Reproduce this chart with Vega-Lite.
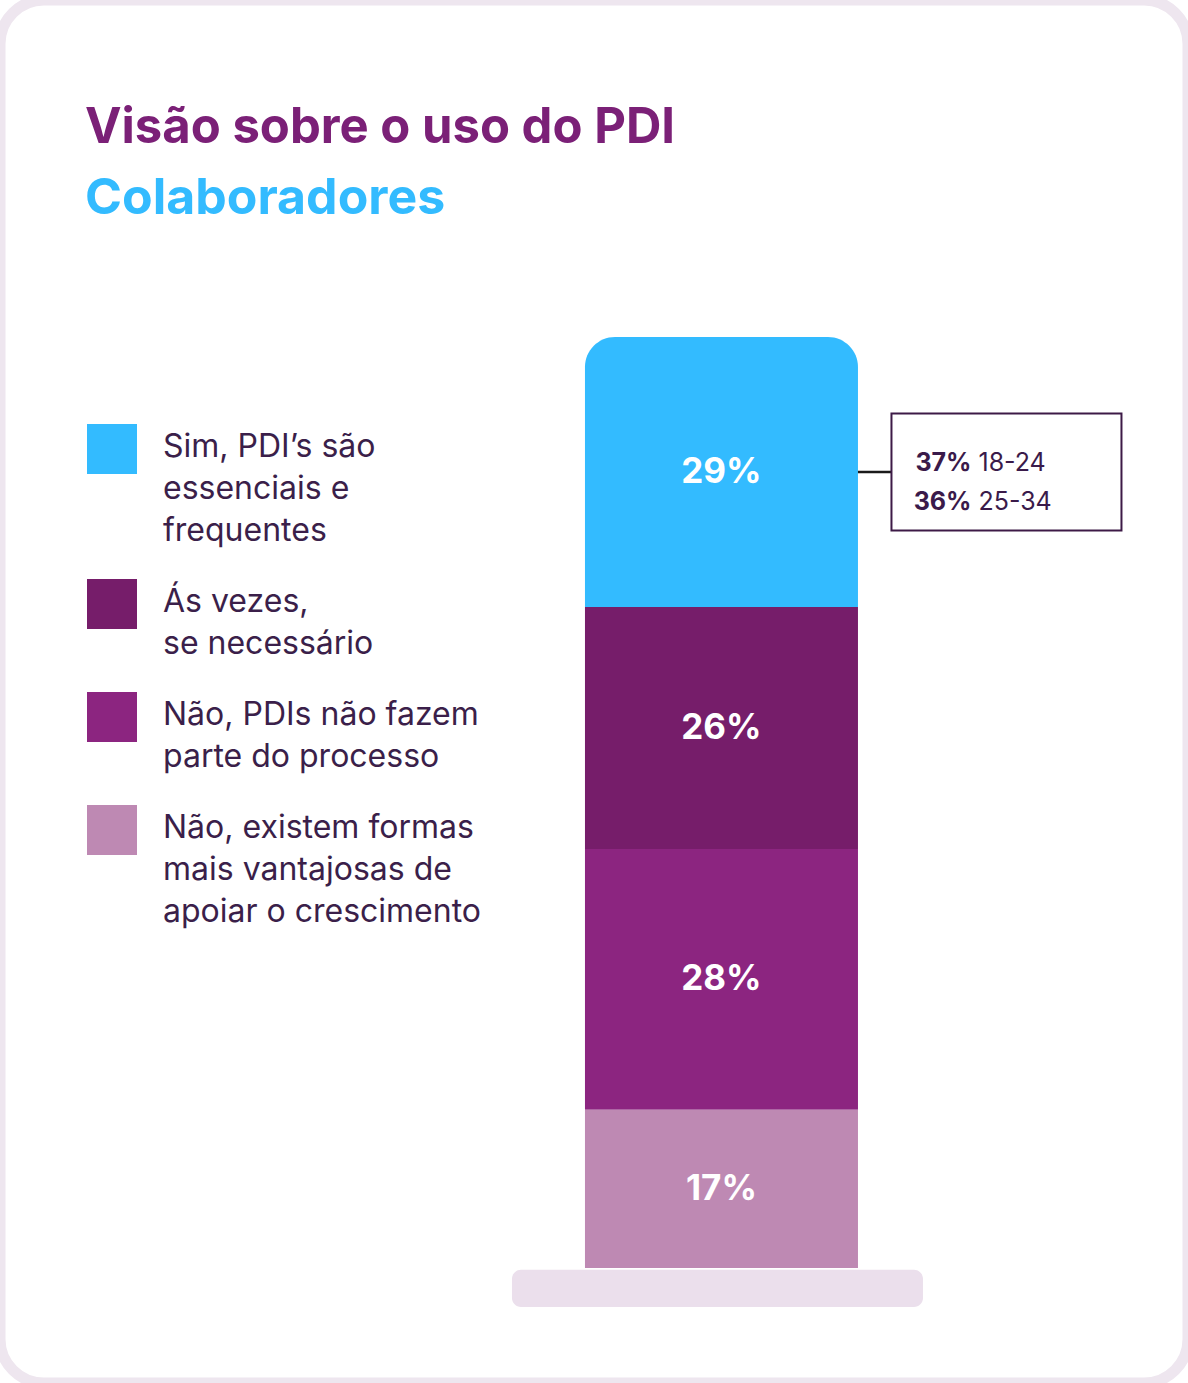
{
  "$schema": "https://vega.github.io/schema/vega-lite/v6.json",
  "width": 1188,
  "height": 1383,
  "autosize": {"type": "none"},
  "padding": 0,
  "background": "white",
  "title": {
    "text": "Visão sobre o uso do PDI",
    "subtitle": "Colaboradores",
    "anchor": "start",
    "frame": "group",
    "orient": "top",
    "dx": 85,
    "offset": -224,
    "font": "Inter",
    "fontSize": 49,
    "fontWeight": "bold",
    "color": "#7B2077",
    "subtitleFont": "Inter",
    "subtitleFontSize": 50,
    "subtitleFontWeight": "bold",
    "subtitleColor": "#33BBFF",
    "subtitlePadding": 21
  },
  "data": {
    "values": [
      {"resposta": "Sim, PDI’s são essenciais e frequentes", "pct": 0.29, "ordem": 4, "pct1": "37%", "faixa1": "18-24", "pct2": "36%", "faixa2": "25-34"},
      {"resposta": "Ás vezes, se necessário", "pct": 0.26, "ordem": 3},
      {"resposta": "Não, PDIs não fazem parte do processo", "pct": 0.28, "ordem": 2},
      {"resposta": "Não, existem formas mais vantajosas de apoiar o crescimento", "pct": 0.17, "ordem": 1}
    ]
  },
  "transform": [
    {"stack": "pct", "groupby": [], "sort": [{"field": "ordem", "order": "ascending"}], "as": ["y0", "y1"]},
    {"calculate": "(datum.y0 + datum.y1) / 2", "as": "meio"}
  ],
  "encoding": {
    "x": {
      "datum": "Colaboradores",
      "type": "nominal",
      "axis": null,
      "scale": {"domain": ["Colaboradores", "Faixa etária"], "paddingInner": 0, "paddingOuter": 1, "align": 0.9646}
    }
  },
  "layer": [
    {
      "transform": [{"filter": "datum.ordem == 4"}],
      "mark": {"type": "bar", "color": "#EBDFEC", "cornerRadius": 9, "size": 411, "xOffset": -4},
      "encoding": {
        "y": {"datum": -0.002, "type": "quantitative", "axis": null, "scale": {"domain": [-0.12352, 1.36197], "nice": false, "zero": false}},
        "y2": {"datum": -0.042}
      }
    },
    {
      "transform": [{"filter": "datum.ordem == 4"}],
      "mark": {"type": "rule", "color": "#1A1A1A", "strokeWidth": 2.5},
      "encoding": {
        "x2": {"datum": "Faixa etária"},
        "y": {"field": "meio", "type": "quantitative"}
      }
    },
    {
      "transform": [{"filter": "datum.ordem < 4"}],
      "mark": {"type": "bar", "size": 273},
      "encoding": {
        "y": {"field": "y1", "type": "quantitative"},
        "y2": {"field": "y0"},
        "color": {
          "field": "resposta",
          "type": "nominal",
          "scale": {
            "domain": [
              "Sim, PDI’s são essenciais e frequentes",
              "Ás vezes, se necessário",
              "Não, PDIs não fazem parte do processo",
              "Não, existem formas mais vantajosas de apoiar o crescimento"
            ],
            "range": ["#33BBFF", "#761D6A", "#8C2580", "#BE89B3"]
          },
          "legend": {
            "orient": "none",
            "legendX": 87,
            "legendY": 424,
            "title": null,
            "padding": 0,
            "symbolType": "square",
            "symbolSize": 2500,
            "symbolStrokeWidth": 0,
            "symbolOpacity": 1,
            "labelFont": "Inter",
            "labelFontSize": 32,
            "labelColor": "#3B1F4A",
            "labelOffset": 26,
            "labelLimit": 0,
            "labelBaseline": "top",
            "rowPadding": 32,
            "labelExpr": "datum.label == 'Sim, PDI’s são essenciais e frequentes' ? ['Sim, PDI’s são', 'essenciais e', 'frequentes'] : datum.label == 'Ás vezes, se necessário' ? ['Ás vezes,', 'se necessário'] : datum.label == 'Não, PDIs não fazem parte do processo' ? ['Não, PDIs não fazem', 'parte do processo'] : ['Não, existem formas', 'mais vantajosas de', 'apoiar o crescimento']",
            "encode": {"labels": {"update": {"lineHeight": {"value": 42}, "dy": {"value": -17}}}}
          }
        }
      }
    },
    {
      "transform": [{"filter": "datum.ordem == 4"}],
      "mark": {"type": "bar", "size": 273, "cornerRadiusTopLeft": 30, "cornerRadiusTopRight": 30},
      "encoding": {
        "y": {"field": "y1", "type": "quantitative"},
        "y2": {"field": "y0"},
        "color": {"field": "resposta", "type": "nominal"}
      }
    },
    {
      "mark": {"type": "text", "color": "white", "font": "Inter", "fontSize": 35, "fontWeight": "bold", "baseline": "middle"},
      "encoding": {
        "y": {"field": "meio", "type": "quantitative"},
        "text": {"field": "pct", "type": "quantitative", "format": ".0%"}
      }
    },
    {
      "transform": [
        {"filter": "datum.ordem == 4"},
        {"calculate": "datum.meio + 0.0628", "as": "caixaTopo"},
        {"calculate": "datum.meio - 0.0628", "as": "caixaBase"}
      ],
      "mark": {"type": "bar", "fill": "white", "stroke": "#3D1A47", "strokeWidth": 2, "size": 230, "xOffset": -12},
      "encoding": {
        "x": {"datum": "Faixa etária", "type": "nominal"},
        "y": {"field": "caixaTopo", "type": "quantitative"},
        "y2": {"field": "caixaBase"}
      }
    },
    {
      "transform": [{"filter": "datum.ordem == 4"}],
      "mark": {"type": "text", "align": "right", "dx": -35, "dy": -9, "xOffset": -12, "font": "Inter", "fontSize": 25, "fontWeight": "bold", "color": "#3A1A4A"},
      "encoding": {
        "x": {"datum": "Faixa etária", "type": "nominal"},
        "y": {"field": "meio", "type": "quantitative"},
        "text": {"field": "pct1"}
      }
    },
    {
      "transform": [{"filter": "datum.ordem == 4"}],
      "mark": {"type": "text", "align": "left", "dx": -28, "dy": -9, "xOffset": -12, "font": "Inter", "fontSize": 25, "color": "#3A1A4A"},
      "encoding": {
        "x": {"datum": "Faixa etária", "type": "nominal"},
        "y": {"field": "meio", "type": "quantitative"},
        "text": {"field": "faixa1"}
      }
    },
    {
      "transform": [{"filter": "datum.ordem == 4"}],
      "mark": {"type": "text", "align": "right", "dx": -35, "dy": 30, "xOffset": -12, "font": "Inter", "fontSize": 25, "fontWeight": "bold", "color": "#3A1A4A"},
      "encoding": {
        "x": {"datum": "Faixa etária", "type": "nominal"},
        "y": {"field": "meio", "type": "quantitative"},
        "text": {"field": "pct2"}
      }
    },
    {
      "transform": [{"filter": "datum.ordem == 4"}],
      "mark": {"type": "text", "align": "left", "dx": -28, "dy": 30, "xOffset": -12, "font": "Inter", "fontSize": 25, "color": "#3A1A4A"},
      "encoding": {
        "x": {"datum": "Faixa etária", "type": "nominal"},
        "y": {"field": "meio", "type": "quantitative"},
        "text": {"field": "faixa2"}
      }
    }
  ],
  "config": {
    "view": {"stroke": "#EEE6EF", "strokeWidth": 11, "cornerRadius": 44, "fill": "white"}
  }
}
